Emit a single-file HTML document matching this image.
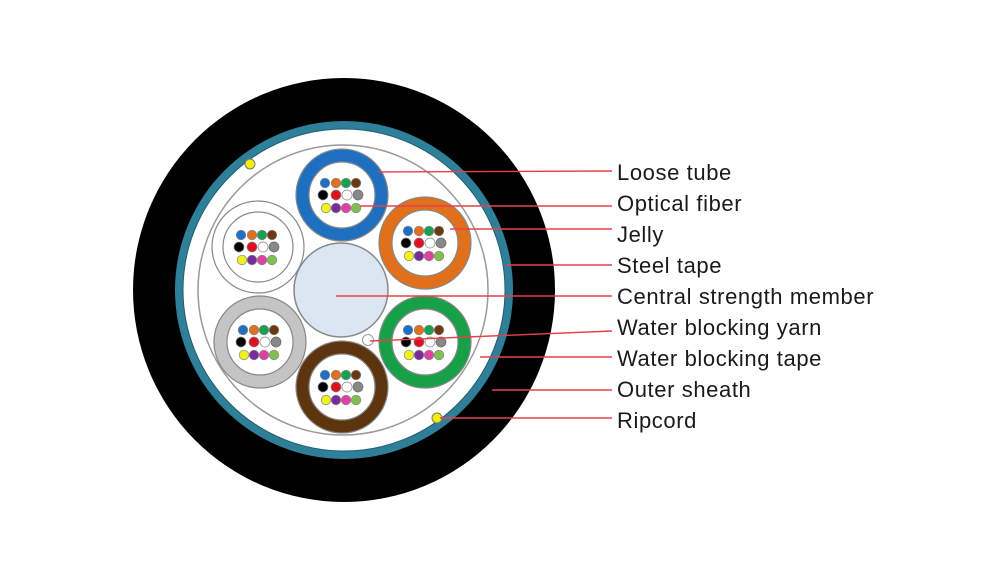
<!DOCTYPE html>
<html><head><meta charset="utf-8"><style>
html,body{margin:0;padding:0;background:#fff;}
svg{display:block;}
text{font-family:"Liberation Sans",Arial,sans-serif;font-size:22px;letter-spacing:0.6px;fill:#1a1a1a;}
</style></head><body>
<svg width="1000" height="578" viewBox="0 0 1000 578" xmlns="http://www.w3.org/2000/svg">
<defs>
<g id="fib">
<circle cx="-17" cy="-12" r="4.8" fill="#1f6fc4" stroke="#888" stroke-width="0.7"/>
<circle cx="-6" cy="-12" r="4.8" fill="#e07020" stroke="#888" stroke-width="0.7"/>
<circle cx="4" cy="-12" r="4.8" fill="#18a050" stroke="#888" stroke-width="0.7"/>
<circle cx="14" cy="-12" r="4.8" fill="#6b3a12" stroke="#888" stroke-width="0.7"/>
<circle cx="-19" cy="0" r="5" fill="#000" stroke="#888" stroke-width="0.7"/>
<circle cx="-6" cy="0" r="5" fill="#e01020" stroke="#888" stroke-width="0.7"/>
<circle cx="5" cy="0" r="5" fill="#fff" stroke="#888" stroke-width="0.7"/>
<circle cx="16" cy="0" r="5" fill="#888" stroke="#666" stroke-width="0.7"/>
<circle cx="-16" cy="13" r="4.8" fill="#f0f020" stroke="#888" stroke-width="0.7"/>
<circle cx="-6" cy="13" r="4.8" fill="#7a2a9a" stroke="#888" stroke-width="0.7"/>
<circle cx="4" cy="13" r="4.8" fill="#e040a0" stroke="#888" stroke-width="0.7"/>
<circle cx="14" cy="13" r="4.8" fill="#80c050" stroke="#888" stroke-width="0.7"/>
</g>
</defs>
<ellipse cx="344" cy="290" rx="211" ry="212" fill="#000"/>
<circle cx="344" cy="290" r="169" fill="#2f7f98"/>
<circle cx="344" cy="290" r="161" fill="#fff" stroke="#1f5f70" stroke-width="1"/>
<circle cx="343" cy="290" r="145" fill="none" stroke="#999" stroke-width="1.5"/>
<circle cx="341" cy="290" r="47" fill="#dce6f2" stroke="#888" stroke-width="1.5"/>
<circle cx="368" cy="340" r="5.5" fill="#fff" stroke="#999" stroke-width="1"/>
<g stroke="#888" stroke-width="1.2">
<circle cx="342" cy="195" r="46" fill="#1e6fc0"/><circle cx="342" cy="195" r="33" fill="#fff"/>
<circle cx="425" cy="243" r="46" fill="#e0701c"/><circle cx="425" cy="243" r="33" fill="#fff"/>
<circle cx="425" cy="342" r="46" fill="#18a048"/><circle cx="425" cy="342" r="33" fill="#fff"/>
<circle cx="342" cy="387" r="46" fill="#5c340e"/><circle cx="342" cy="387" r="33" fill="#fff"/>
<circle cx="260" cy="342" r="46" fill="#c4c4c4"/><circle cx="260" cy="342" r="33" fill="#fff"/>
<circle cx="258" cy="247" r="46" fill="#fff"/><circle cx="258" cy="247" r="35" fill="#fff"/>
</g>
<use href="#fib" x="342" y="195"/>
<use href="#fib" x="425" y="243"/>
<use href="#fib" x="425" y="342"/>
<use href="#fib" x="342" y="387"/>
<use href="#fib" x="260" y="342"/>
<use href="#fib" x="258" y="247"/>
<circle cx="250" cy="164" r="5" fill="#f5f000" stroke="#777" stroke-width="1"/>
<circle cx="437" cy="418" r="5" fill="#f5f000" stroke="#777" stroke-width="1"/>
<g stroke="#e8404a" stroke-width="1.4">
<line x1="378" y1="172" x2="612" y2="171"/>
<line x1="360" y1="206" x2="612" y2="206"/>
<line x1="450" y1="229" x2="612" y2="229"/>
<line x1="506" y1="265" x2="612" y2="265"/>
<line x1="336" y1="296" x2="612" y2="296"/>
<line x1="370" y1="341" x2="612" y2="331"/>
<line x1="480" y1="357" x2="612" y2="357"/>
<line x1="492" y1="390" x2="612" y2="390"/>
<line x1="440" y1="418" x2="612" y2="418"/>
</g>
<text x="617" y="180">Loose tube</text>
<text x="617" y="211">Optical fiber</text>
<text x="617" y="242">Jelly</text>
<text x="617" y="273">Steel tape</text>
<text x="617" y="304">Central strength member</text>
<text x="617" y="335">Water blocking yarn</text>
<text x="617" y="366">Water blocking tape</text>
<text x="617" y="397">Outer sheath</text>
<text x="617" y="428">Ripcord</text>
</svg>
</body></html>
